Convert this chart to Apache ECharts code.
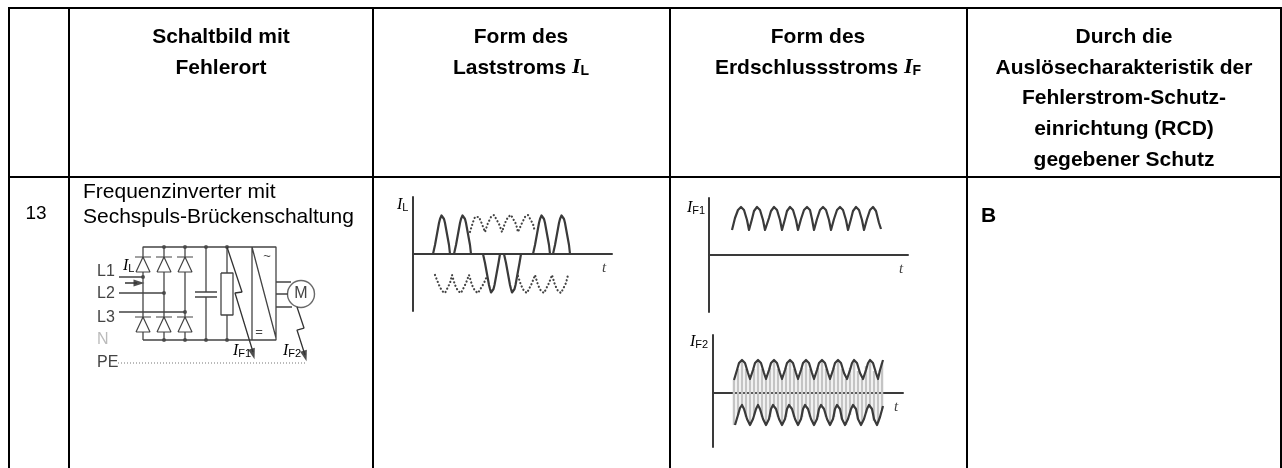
<!DOCTYPE html>
<html>
<head>
<meta charset="utf-8">
<style>
	html, body { margin: 0; padding: 0; background: #fff; }
	#chart { width: 1282px; height: 468px; }
</style>
<script src="https://cdn.jsdelivr.net/npm/echarts@6/dist/echarts.min.js"></script>
</head>
<body>
<div id="chart"></div>
<script>
// table texts
const headSchaltbild = ['Schaltbild mit', 'Fehlerort'];
const headLaststrom = ['Form des', '{b|Laststroms }{bi|I}{bs|L}'];
const headErdschluss = ['Form des', '{b|Erdschlussstroms }{bi|I}{bs|F}'];
const headSchutz = ['Durch die', 'Auslösecharakteristik der', 'Fehlerstrom-Schutz-', 'einrichtung (RCD)', 'gegebener Schutz'];
const rowNumber = '13';
const rowName = ['Frequenzinverter mit', 'Sechspuls-Brückenschaltung'];
const rowSchutz = 'B';

// load current: [t, i], null closes a half wave
const loadSolidUp = [
	[20, 0], [22, 9], [24, 20], [26, 31], [27, 35], [28.5, 38.5], [30, 38.5], [31, 35], [32, 31], [34, 20], [36, 9], [37, 0], [37, null],
	[41, 0], [43, 9], [45, 20], [47, 31], [48, 35], [49.5, 38.5], [51, 38.5], [52, 35], [53, 31], [55, 20], [57, 9], [58, 0], [58, null],
	[120, 0], [122, 9], [124, 20], [126, 31], [127, 35], [128.5, 38.5], [130, 38.5], [131, 35], [132, 31], [134, 20], [136, 9], [137, 0], [137, null],
	[140, 0], [142, 9], [144, 20], [146, 31], [147, 35], [148.5, 38.5], [150, 38.5], [151, 35], [152, 31], [154, 20], [156, 9], [157, 0]
];
const loadSolidDown = [
	[70, 0], [72, -9], [74, -20], [76, -31], [77, -35], [78, -38.5], [79.5, -38.5], [80.5, -35], [81.5, -31], [83.5, -20], [85.5, -9], [87, 0], [87, null],
	[91, 0], [93, -9], [95, -20], [97, -31], [98, -35], [99, -38.5], [100.5, -38.5], [101.5, -35], [102.5, -31], [104.5, -20], [106.5, -9], [108, 0]
];
const loadDottedUp = [
	[57, 22], [60, 32], [62, 37], [64, 39], [66, 37], [69, 30], [72, 22],
	[75, 31], [78, 37], [81, 39], [83, 37], [86, 30], [89, 22],
	[92, 31], [95, 37], [98, 39], [100, 37], [103, 30], [105, 22],
	[109, 31], [112, 37], [115, 39], [117, 37], [120, 30], [122, 22]
];
const loadDottedDown = [
	[22, -21], [26, -31], [29, -37], [32, -39], [34, -37], [37, -29], [39, -21],
	[42, -31], [45, -37], [48, -39], [50, -37], [53, -29], [56, -21],
	[59, -31], [62, -37], [65, -39], [67, -37], [71, -29], [74, -22], [74, null],
	[105, -22], [108, -31], [111, -37], [114, -39], [116, -37], [119, -29], [122, -21],
	[125, -31], [128, -37], [131, -39], [133, -37], [136, -29], [139, -21],
	[142, -31], [145, -37], [148, -39], [150, -37], [153, -29], [155, -21]
];

// earth fault current F1
const faultOne = [
	[23, 25], [26, 37], [29, 45], [32, 48], [35, 45], [38, 35], [40, 25],
	[43, 36], [45, 44], [48, 48], [51, 45], [54, 35], [56, 25],
	[60, 37], [62, 44], [65, 48], [68, 45], [71, 35], [73, 25],
	[76, 36], [78, 44], [81, 48], [84, 45], [87, 35], [89, 25],
	[92, 36], [95, 45], [98, 48], [101, 45], [103, 36], [105, 25],
	[108, 36], [111, 45], [114, 48], [117, 45], [120, 35], [122, 25],
	[125, 36], [128, 45], [131, 48], [134, 45], [137, 35], [139, 25],
	[142, 36], [144, 44], [147, 48], [150, 45], [153, 35], [155, 25],
	[158, 36], [161, 45], [164, 48], [167, 44], [170, 32], [172, 26]
];

// earth fault current F2, upper and lower envelope
const faultTwoTop = [
	[21, 13], [24, 23], [26, 30], [29, 33], [32, 30], [35, 20], [37, 14],
	[40, 23], [42, 30], [45, 33], [48, 30], [51, 20], [53, 14],
	[56, 23], [58, 30], [61, 33], [64, 30], [67, 20], [69, 14],
	[72, 23], [74, 30], [77, 33], [80, 30], [83, 20], [85, 14],
	[88, 23], [90, 30], [93, 33], [96, 30], [99, 20], [101, 14],
	[104, 23], [106, 30], [109, 33], [112, 30], [115, 20], [117, 14],
	[120, 23], [122, 30], [125, 33], [128, 30], [131, 20], [134, 14],
	[137, 23], [139, 30], [141, 33], [144, 30], [147, 20], [150, 14],
	[153, 23], [155, 30], [157, 33], [160, 30], [163, 20], [165, 14],
	[167, 23], [170, 33]
];
const faultTwoBottom = [
	[22, -32], [25, -22], [27, -15], [29, -12], [31, -16], [34, -26], [37, -32],
	[40, -26], [43, -16], [45, -12], [47, -16], [50, -26], [53, -32],
	[56, -26], [58, -16], [60, -12], [63, -16], [66, -26], [69, -32],
	[72, -26], [74, -16], [76, -12], [79, -16], [82, -26], [85, -32],
	[88, -26], [90, -16], [92, -12], [95, -16], [98, -26], [101, -32],
	[104, -26], [106, -16], [108, -12], [111, -16], [114, -26], [117, -32],
	[120, -26], [122, -16], [124, -12], [127, -16], [129, -26], [132, -32],
	[135, -26], [138, -16], [140, -12], [143, -16], [145, -26], [148, -32],
	[151, -26], [154, -16], [156, -12], [159, -16], [161, -26], [164, -32],
	[167, -24], [170, -13]
];
const hatchTimes = [21, 25, 29, 33, 37, 41, 45, 49, 53, 57, 61, 65, 69, 73, 77, 81, 85, 89, 93, 97, 101, 105, 109, 113, 117, 121, 125, 129, 133, 137, 141, 145, 149, 153, 157, 161, 165, 169];
const hatchUp = [13, 24, 33, 24, 14, 24, 33, 24, 14, 25, 33, 24, 14, 25, 33, 24, 14, 25, 33, 24, 14, 25, 33, 24, 14, 25, 33, 24, 14, 25, 33, 22, 14, 27, 33, 22, 14, 30];
const hatchDown = [-32, -22, -12, -24, -32, -22, -12, -24, -32, -24, -12, -24, -32, -24, -12, -24, -32, -24, -12, -24, -32, -24, -12, -24, -32, -24, -13, -26, -32, -22, -13, -26, -30, -20, -13, -28, -30, -16];

// circuit diagram, read in page pixels
const wires = [
	[143, 340], [143, 332], null, [143, 317], [143, 272], null, [143, 257], [143, 247], [276, 247], [276, 340], [143, 340], null,
	[164, 247], [164, 257], null, [164, 272], [164, 317], null, [164, 332], [164, 340], null,
	[185, 247], [185, 257], null, [185, 272], [185, 317], null, [185, 332], [185, 340], null,
	[206, 247], [206, 292], null, [195, 292], [217, 292], null, [195, 297], [217, 297], null, [206, 297], [206, 340], null,
	[227, 247], [227, 273], null, [221, 273], [233, 273], [233, 315], [221, 315], [221, 273], null, [227, 315], [227, 340], null,
	[252, 247], [252, 340], null, [252, 247], [276, 338], null,
	[276, 282], [291, 282], null, [276, 294], [288, 294], null, [276, 307], [292, 307], null,
	[119, 277], [143, 277], null, [119, 293], [164, 293], null, [119, 312], [185, 312]
];
const diodes = [
	[136, 272], [143, 257], [150, 272], [136, 272], null, [135, 257], [151, 257], null,
	[157, 272], [164, 257], [171, 272], [157, 272], null, [156, 257], [172, 257], null,
	[178, 272], [185, 257], [192, 272], [178, 272], null, [177, 257], [193, 257], null,
	[136, 332], [143, 317], [150, 332], [136, 332], null, [135, 317], [151, 317], null,
	[157, 332], [164, 317], [171, 332], [157, 332], null, [156, 317], [172, 317], null,
	[178, 332], [185, 317], [192, 332], [178, 332], null, [177, 317], [193, 317]
];
const faultPaths = [
	[227, 247], [242, 292], [235, 293], [253, 352], null,
	[297, 307], [304, 328], [297, 330], [305, 355], null,
	[125, 283], [137, 283]
];
const junctions = [[164, 247], [185, 247], [206, 247], [227, 247], [164, 340], [185, 340], [206, 340], [227, 340], [143, 277], [164, 293], [185, 312]];
const arrowHeads = [[253, 354, 196], [305, 356, 196], [139, 283, 270]];
const motor = [[301, 294]];
const protectiveEarth = [[118, 363], [307, 363]];

const LINE = '#3a3a3a';

function cell (left, top, width, height, xRange, yRange, inverse) {
	return {
		grid: { left, top, width, height },
		xAxis: {
			type: 'value', min: xRange[0], max: xRange[1],
			axisTick: { show: false }, axisLabel: { show: false }, splitLine: { show: false },
			axisLine: { show: !inverse, onZero: true, lineStyle: { color: LINE, width: 2 } }
		},
		yAxis: {
			type: 'value', min: yRange[0], max: yRange[1], inverse: !!inverse,
			axisTick: { show: false }, axisLabel: { show: false }, splitLine: { show: false },
			axisLine: { show: !inverse, onZero: true, lineStyle: { color: LINE, width: 2 } }
		}
	};
}

const cells = [
	cell(413, 197, 199, 114, [0, 199], [-57, 57]),
	cell(709, 198, 199, 114, [0, 199], [-57, 57]),
	cell(713, 335, 190, 112, [0, 190], [-54, 58]),
	cell(90, 240, 230, 130, [90, 320], [240, 370], true)
];

function wave (idx, data, dotted) {
	return {
		type: 'line', xAxisIndex: idx, yAxisIndex: idx, data, symbol: 'none', z: 3,
		connectNulls: false, silent: true,
		lineStyle: dotted
			? { color: '#444', width: 2.2, type: [0.1, 3.6], cap: 'round' }
			: { color: LINE, width: 2.2, join: 'round' }
	};
}
function wire (data, color, width, type) {
	return {
		type: 'line', xAxisIndex: 3, yAxisIndex: 3, data, symbol: 'none', silent: true,
		connectNulls: false,
		lineStyle: { color, width, type: type || 'solid' }
	};
}

function zip (xs, ys) { return xs.map((x, i) => [x, ys[i]]); }

const series = [
	wave(0, loadSolidUp), wave(0, loadSolidDown),
	wave(0, loadDottedUp, true), wave(0, loadDottedDown, true),
	wave(1, faultOne),
	{ type: 'bar', xAxisIndex: 2, yAxisIndex: 2, stack: 'hatch', barWidth: 2.5, silent: true, itemStyle: { color: '#c4c4c4' }, data: zip(hatchTimes, hatchUp) },
	{ type: 'bar', xAxisIndex: 2, yAxisIndex: 2, stack: 'hatch', barWidth: 2.5, silent: true, itemStyle: { color: '#c4c4c4' }, data: zip(hatchTimes, hatchDown) },
	wave(2, faultTwoTop), wave(2, faultTwoBottom),
	wire(wires.map(p => p || [null, null]), '#444', 1.3),
	wire(diodes.map(p => p || [null, null]), '#444', 1.2),
	wire(faultPaths.map(p => p || [null, null]), '#333', 1.3),
	wire(protectiveEarth, '#777', 1.2, [1, 2]),
	{ type: 'scatter', xAxisIndex: 3, yAxisIndex: 3, symbolSize: 4, silent: true, itemStyle: { color: '#333' }, data: junctions },
	{
		type: 'scatter', xAxisIndex: 3, yAxisIndex: 3, symbol: 'triangle', symbolSize: [7, 11], silent: true,
		symbolRotate: v => v[2], itemStyle: { color: '#222' }, data: arrowHeads
	},
	{
		type: 'scatter', xAxisIndex: 3, yAxisIndex: 3, symbolSize: 27, silent: true,
		itemStyle: { color: '#fff', borderColor: '#444', borderWidth: 1.4 }, data: motor
	}
];

// table rules, no line along the page bottom
function rule (x1, y1, x2, y2) {
	return { type: 'line', shape: { x1, y1, x2, y2 }, style: { stroke: '#000', lineWidth: 2 }, silent: true };
}
const richBold = {
	b: { fontFamily: 'Liberation Sans', fontWeight: 'bold', fontSize: 21, color: '#000' },
	bi: { fontFamily: 'Liberation Serif', fontStyle: 'italic', fontWeight: 'bold', fontSize: 22, color: '#000' },
	bs: { fontFamily: 'Liberation Sans', fontWeight: 'bold', fontSize: 14, color: '#000', padding: [6, 0, 0, 0] }
};
const richDiagram = {
	i: { fontFamily: 'Liberation Serif', fontStyle: 'italic', fontSize: 16, color: '#444' },
	s: { fontFamily: 'Liberation Sans', fontSize: 11, color: '#555', padding: [5, 0, 0, 0] }
};
function label (x, y, text, o) {
	o = o || {};
	return {
		type: 'text', x, y, silent: true, z: 20,
		style: {
			text,
			font: o.font || '16px "Liberation Sans"',
			fill: o.fill || '#000',
			align: o.align || 'left',
			verticalAlign: 'middle',
			rich: o.rich
		}
	};
}
const BOLD = 'bold 21px "Liberation Sans"';
const BODY = '21px "Liberation Sans"';
function headLines (cx, lines) {
	return lines.map((t, i) => label(cx, 37 + i * 30.8, t, { font: BOLD, align: 'center', rich: richBold }));
}

const graphic = [
	rule(8, 8, 1282, 8), rule(8, 177, 1282, 177),
	rule(9, 8, 9, 468), rule(69, 8, 69, 468), rule(373, 8, 373, 468),
	rule(670, 8, 670, 468), rule(967, 8, 967, 468), rule(1281, 8, 1281, 468),
	...headLines(221, headSchaltbild),
	...headLines(521, headLaststrom),
	...headLines(818, headErdschluss),
	...headLines(1124, headSchutz),
	label(36, 214, rowNumber, { align: 'center', font: '19px "Liberation Sans"' }),
	label(83, 192, rowName[0], { font: BODY }),
	label(83, 217, rowName[1], { font: BODY }),
	label(981, 216, rowSchutz, { font: BOLD }),
	// diagram labels
	label(97, 272, 'L1', { fill: '#444' }),
	label(97, 294, 'L2', { fill: '#444' }),
	label(97, 318, 'L3', { fill: '#444' }),
	label(97, 340, 'N', { fill: '#bbb' }),
	label(97, 363, 'PE', { fill: '#444' }),
	label(123, 266, '{i|I}{s|L}', { rich: richDiagram }),
	label(233, 351, '{i|I}{s|F1}', { rich: richDiagram }),
	label(283, 351, '{i|I}{s|F2}', { rich: richDiagram }),
	label(301, 294, 'M', { align: 'center', fill: '#444' }),
	label(267, 256, '~', { align: 'center', fill: '#444', font: '13px "Liberation Sans"' }),
	label(259, 332, '=', { align: 'center', fill: '#444', font: '13px "Liberation Sans"' }),
	// waveform labels
	label(397, 205, '{i|I}{s|L}', { rich: richDiagram }),
	label(602, 268, 't', { font: 'italic 15px "Liberation Serif"', fill: '#444' }),
	label(687, 208, '{i|I}{s|F1}', { rich: richDiagram }),
	label(899, 269, 't', { font: 'italic 15px "Liberation Serif"', fill: '#444' }),
	label(690, 342, '{i|I}{s|F2}', { rich: richDiagram }),
	label(894, 407, 't', { font: 'italic 15px "Liberation Serif"', fill: '#444' })
];

const chart = echarts.init(document.querySelector('#chart'), null, { renderer: 'canvas' });
chart.setOption({
	animation: false,
	backgroundColor: '#fff',
	grid: cells.map(c => c.grid),
	xAxis: cells.map((c, i) => Object.assign(c.xAxis, { gridIndex: i })),
	yAxis: cells.map((c, i) => Object.assign(c.yAxis, { gridIndex: i })),
	series,
	graphic
});
</script>
</body>
</html>
